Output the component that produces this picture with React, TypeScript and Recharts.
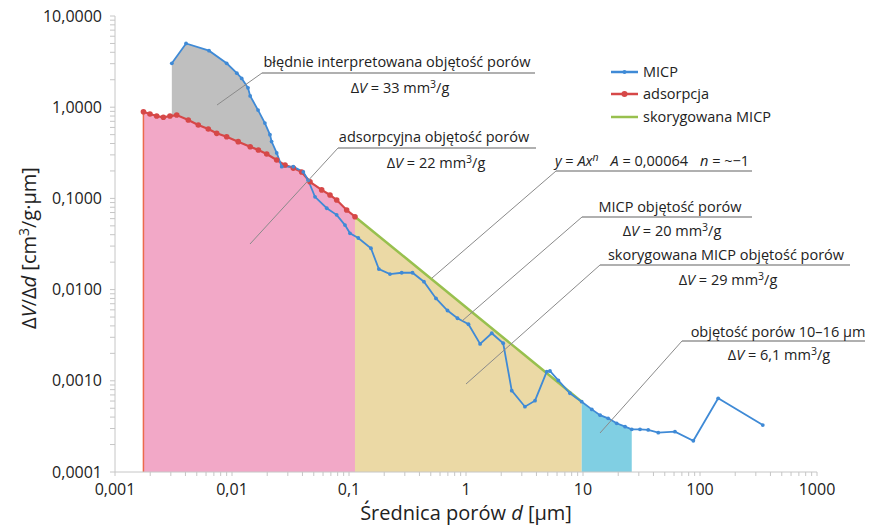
import { ComposedChart, Line, Area, XAxis, YAxis, ReferenceLine } from 'recharts'

// MICP curve (pore diameter in µm, dV/dd)
const micpX = [0.00306, 0.00405, 0.00636, 0.009, 0.011, 0.0121, 0.0137, 0.0143, 0.0167, 0.0191, 0.0211, 0.0218, 0.0241, 0.0266, 0.0334, 0.0407, 0.0448, 0.0512, 0.0646, 0.0784, 0.0924, 0.102, 0.12, 0.154, 0.18, 0.224, 0.282, 0.349, 0.437, 0.554, 0.695, 0.846, 1.05, 1.32, 1.66, 2.08, 2.46, 3.19, 3.89, 4.9, 5.22, 6.15, 7.74, 9.75, 11.9, 14, 16.4, 19.4, 22.9, 26.1, 30.7, 36.1, 44, 61.1, 87.7, 143, 344]
const micpY = [3.03, 5.0, 4.17, 3.03, 2.36, 2.07, 1.63, 1.33, 0.93, 0.67, 0.5, 0.42, 0.315, 0.223, 0.223, 0.195, 0.158, 0.104, 0.078, 0.066, 0.051, 0.0414, 0.0368, 0.0284, 0.0168, 0.0148, 0.0153, 0.0153, 0.0122, 0.008, 0.0059, 0.00485, 0.00417, 0.00254, 0.00332, 0.00258, 0.00078, 0.00052, 0.000605, 0.00126, 0.00128, 0.00101, 0.00073, 0.00059, 0.000486, 0.00042, 0.000388, 0.000342, 0.000314, 0.000294, 0.000294, 0.000289, 0.00027, 0.000277, 0.00022, 0.000643, 0.000327]

// adsorption curve
const adsX = [0.00175, 0.00199, 0.00227, 0.00259, 0.00295, 0.00337, 0.00423, 0.00515, 0.00627, 0.0074, 0.009, 0.0113, 0.0143, 0.0168, 0.0198, 0.0241, 0.0284, 0.0334, 0.0394, 0.0464, 0.0584, 0.0688, 0.0785, 0.0955, 0.1125]
const adsY = [0.893, 0.841, 0.8, 0.775, 0.8, 0.82, 0.725, 0.638, 0.577, 0.517, 0.475, 0.419, 0.369, 0.34, 0.307, 0.264, 0.232, 0.215, 0.195, 0.152, 0.124, 0.109, 0.096, 0.0746, 0.063]

// corrected MICP (power law segment)
const corrX = [0.1125, 0.3, 1, 3, 9.75]
const corrY = [0.063, 0.0226, 0.0064, 0.00203, 0.00059]

const xTicks = [0.001, 0.01, 0.1, 1, 10, 100, 1000]
const xTickLabels = ['0,001', '0,01', '0,1', '1', '10', '100', '1000']
const yTicks = [0.0001, 0.001, 0.01, 0.1, 1, 10]
const yTickLabels = ['0,0001', '0,0010', '0,0100', '0,1000', '1,0000', '10,0000']
const seriesNames = ['MICP', 'adsorpcja', 'skorygowana MICP']

// limits of shaded regions (µm)
const grayEnd = 0.027
const blueRange = [9.7, 27]

const micp = micpX.map((x, i) => ({ x, y: micpY[i] }))
const ads = adsX.map((x, i) => ({ x, y: adsY[i] }))
const corr = corrX.map((x, i) => ({ x, y: corrY[i] }))
const grayPart = micp.filter(p => p.x <= grayEnd)
const bluePart = micp.filter(p => p.x >= blueRange[0] && p.x <= blueRange[1])

const minor = (majors: number[]) =>
  majors.slice(0, -1).flatMap(d => [1, 2, 3, 4, 5, 6, 7, 8, 9].map(k => +(d * k).toPrecision(3))).concat(majors[majors.length - 1])

const labelOf = (ticks: number[], labels: string[]) => (v: number) => {
  const i = ticks.findIndex(t => Math.abs(t - v) / t < 1e-6)
  return i >= 0 ? labels[i] : ''
}

const BLUE = '#3f8ad6'
const RED = '#d64848'
const GREEN = '#98c04e'
const FONT = "'Open Sans', sans-serif"

function DV({ x, y, val }: { x: number; y: number; val: string }) {
  return (
    <text x={x} y={y} textAnchor="middle" fontSize={14.5} fill="#222">
      <tspan>Δ</tspan><tspan fontStyle="italic">V</tspan><tspan>{` = ${val} mm`}</tspan>
      <tspan dy={-5} fontSize={10.5}>3</tspan><tspan dy={5}>/g</tspan>
    </text>
  )
}

function Callout({ x1, y, x2, tx, ty }: { x1: number; y: number; x2: number; tx: number; ty: number }) {
  return (
    <g>
      <line x1={x1} y1={y} x2={x2} y2={y} stroke="#b0b0b0" strokeWidth={2} />
      <line x1={x1} y1={y} x2={tx} y2={ty} stroke="#8a8a8a" strokeWidth={1} />
    </g>
  )
}

export default function App() {
  const W = 865
  const H = 528
  return (
    <div style={{ position: 'relative', width: W, height: H, marginTop: -8, fontFamily: FONT }}>
      <ComposedChart width={W} height={H} margin={{ top: 16, right: 56, bottom: 26, left: 0 }}>
        <XAxis
          type="number" dataKey="x" scale="log" domain={[0.001, 1000]} allowDataOverflow
          ticks={minor(xTicks)} interval={0} tickFormatter={labelOf(xTicks, xTickLabels)}
          height={30} tickSize={4} tickMargin={8}
          stroke="#c6c6c6" tick={{ fill: '#222', fontSize: 16, fontFamily: FONT }}
        />
        <YAxis
          type="number" dataKey="y" scale="log" domain={[0.0001, 10]} allowDataOverflow
          ticks={minor(yTicks)} interval={0} tickFormatter={labelOf(yTicks, yTickLabels)}
          width={107} tickSize={5} tickMargin={8}
          stroke="#c6c6c6" tick={{ fill: '#222', fontSize: 16, fontFamily: FONT }}
        />
        <Area data={grayPart} dataKey="y" type="linear" baseValue={0.0001} fill="#bfbfbf" fillOpacity={1} stroke="none" isAnimationActive={false} />
        <Area data={ads} dataKey="y" type="linear" baseValue={0.0001} fill="#f2a8c7" fillOpacity={1} stroke="none" isAnimationActive={false} />
        <Area data={corr} dataKey="y" type="linear" baseValue={0.0001} fill="#ebd9a5" fillOpacity={1} stroke="none" isAnimationActive={false} />
        <Area data={bluePart} dataKey="y" type="linear" baseValue={0.0001} fill="#80cfe3" fillOpacity={1} stroke="none" isAnimationActive={false} />
        <ReferenceLine segment={[{ x: adsX[0], y: 0.0001 }, { x: adsX[0], y: adsY[0] }]} stroke="#ec6a4c" strokeWidth={1.5} ifOverflow="visible" />
        <Line data={corr} dataKey="y" name={seriesNames[2]} type="linear" stroke={GREEN} strokeWidth={2.5} dot={false} isAnimationActive={false} />
        <Line data={ads} dataKey="y" name={seriesNames[1]} type="linear" stroke={RED} strokeWidth={2.2} dot={{ r: 2.8, fill: RED, stroke: 'none' }} isAnimationActive={false} />
        <Line data={micp} dataKey="y" name={seriesNames[0]} type="linear" stroke={BLUE} strokeWidth={1.8} dot={{ r: 1.9, fill: BLUE, stroke: 'none' }} isAnimationActive={false} />
      </ComposedChart>

      <svg width={W} height={H} style={{ position: 'absolute', left: 0, top: 0, pointerEvents: 'none', overflow: 'visible' }} fontFamily={FONT}>
        <g transform="translate(-8,0)">
          {/* legend */}
          {[BLUE, RED, GREEN].map((c, i) => {
            const cy = [72, 94, 117][i]
            return (
              <g key={i}>
                <line x1={611} x2={638} y1={cy} y2={cy} stroke={c} strokeWidth={2.5} />
                {i < 2 && <circle cx={624.5} cy={cy} r={i === 0 ? 2 : 3} fill={c} />}
                <text x={643} y={cy + 5} fontSize={14.5} fill="#222">{seriesNames[i]}</text>
              </g>
            )
          })}

          {/* callouts */}
          <Callout x1={262} y={73} x2={535} tx={217} ty={105} />
          <text x={397} y={67} textAnchor="middle" fontSize={14.5} fill="#222">błędnie interpretowana objętość porów</text>
          <DV x={400} y={93} val="33" />

          <Callout x1={338} y={148} x2={536} tx={250} ty={244} />
          <text x={434} y={142} textAnchor="middle" fontSize={14.5} fill="#222">adsorpcyjna objętość porów</text>
          <DV x={436} y={168} val="22" />

          <Callout x1={556} y={171} x2={752} tx={432} ty={278} />
          <text x={652} y={166} textAnchor="middle" fontSize={14.5} fill="#222">
            <tspan fontStyle="italic">y</tspan><tspan> = </tspan><tspan fontStyle="italic">Ax</tspan>
            <tspan dy={-5} fontSize={10.5} fontStyle="italic">n</tspan>
            <tspan dy={5} dx={12} fontStyle="italic">A</tspan><tspan> = 0,00064</tspan>
            <tspan dx={12} fontStyle="italic">n</tspan><tspan> = ~−1</tspan>
          </text>

          <Callout x1={582} y={217} x2={752} tx={462} ty={321} />
          <text x={670} y={212} textAnchor="middle" fontSize={14.5} fill="#222">MICP objętość porów</text>
          <DV x={672} y={236} val="20" />

          <Callout x1={600} y={265} x2={850} tx={466} ty={384} />
          <text x={726} y={260} textAnchor="middle" fontSize={14.5} fill="#222">skorygowana MICP objętość porów</text>
          <DV x={728} y={285} val="29" />

          <Callout x1={682} y={341} x2={873} tx={600} ty={433} />
          <text x={778} y={337} textAnchor="middle" fontSize={14.5} fill="#222">objętość porów 10–16 µm</text>
          <DV x={779} y={360} val="6,1" />

          {/* axis titles */}
          <text x={466} y={520} textAnchor="middle" fontSize={20} fill="#222">
            Średnica porów <tspan fontStyle="italic">d</tspan> [µm]
          </text>
          <text transform="translate(36,248) rotate(-90)" textAnchor="middle" fontSize={20} fill="#222">
            <tspan>Δ</tspan><tspan fontStyle="italic">V</tspan><tspan>/Δ</tspan><tspan fontStyle="italic">d</tspan>
            <tspan> [cm</tspan><tspan dy={-7} fontSize={14}>3</tspan><tspan dy={7}>/g·µm]</tspan>
          </text>
        </g>
      </svg>
    </div>
  )
}
